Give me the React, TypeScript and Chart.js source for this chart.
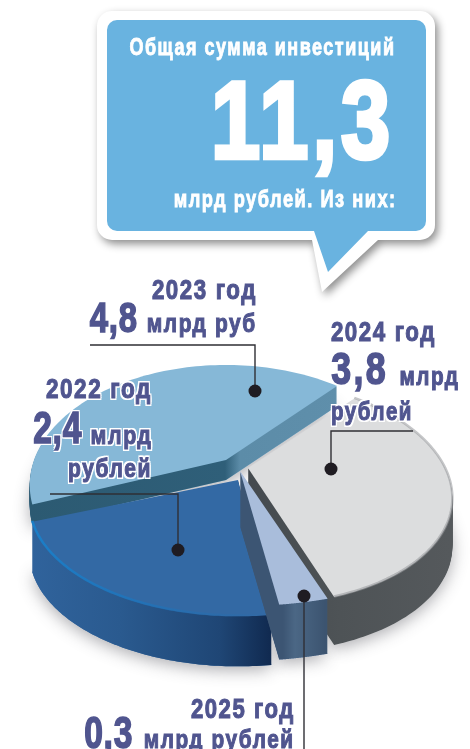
import React, { useEffect, useLayoutEffect, useRef } from "react";
import { Chart, registerables } from "chart.js";

Chart.register(...registerables);

// ---- data ----
const categories = ["2023 год", "2024 год", "2025 год", "2022 год"];
const billions = [4.8, 3.8, 0.3, 2.4];
const totalText = "11,3";

// ---- style ----
const W = 470;
const H = 749;
const PERSP = 0.208;
const INK = "#50558f";
type Slice = {
  cx: number; cy: number; rx: number; ry: number; shear: number; depth: number; top: string;
  wall: [number, string][]; order: number;
};
const sliceStyle: Slice[] = [
  { cx: 226, cy: 460, rx: 192, ry: 114.8, shear: 0, depth: 20, top: "#86b8d7", order: 0,
    wall: [[30, "#2c5a72"], [225, "#2f5f79"], [240, "#5c8ca8"], [340, "#5f8fab"]] },
  { cx: 248, cy: 468, rx: 197, ry: 108, shear: 0.11, depth: 48, top: "#dcddde", order: 2,
    wall: [[240, "#43494e"], [340, "#4e5356"], [450, "#55595c"]] },
  { cx: 240, cy: 471, rx: 240, ry: 107, shear: 0, depth: 55, top: "#a9bddb", order: 3,
    wall: [[240, "#3c5573"], [283, "#3c5573"], [295, "#4b6785"], [325, "#3c5470"]] },
  { cx: 238, cy: 480, rx: 204, ry: 108, shear: 0, depth: 50, top: "#3369a4", order: 1,
    wall: [[30, "#30639c"], [120, "#2a5a8f"], [220, "#1f4675"], [272, "#10294f"]] },
];
const leaders = [
  { pts: [[90, 345], [255, 345], [255, 391]] },
  { pts: [[413, 431], [331, 431], [331, 469]] },
  { pts: [[50, 494], [178, 494], [178, 550]] },
  { pts: [[304, 749], [304, 596]] },
];

type T = {
  t: string; x: number; y: number; s: number; w: number; c?: string;
  ls?: number; halo?: boolean; stroke?: number;
};
const FAM = '"Liberation Sans", sans-serif';
const texts: T[] = [
  { t: "Общая сумма инвестиций", x: 395, y: 47, s: 24, w: 266, c: "#fff", ls: 2, stroke: 0.9 },
  { t: totalText, x: 394, y: 120, s: 110, w: 183, c: "#fff", ls: 5, stroke: 4.5 },
  { t: "млрд рублей. Из них:", x: 397, y: 199, s: 24, w: 223, c: "#fff", ls: 2, stroke: 0.9 },
  { t: categories[0], x: 257, y: 290, s: 28, w: 105, ls: 2, stroke: 1.1 },
  { t: "4,8", x: 138, y: 317, s: 43, w: 48, ls: 1, stroke: 1.6 },
  { t: "млрд руб", x: 257, y: 323, s: 26, w: 110, ls: 2, stroke: 1.1 },
  { t: categories[1], x: 436, y: 332, s: 28, w: 105, ls: 2, stroke: 1.1 },
  { t: "3,8", x: 388, y: 369, s: 44, w: 57, ls: 3, stroke: 1.6 },
  { t: "млрд", x: 459, y: 376, s: 26, w: 60, ls: 2, stroke: 1.1 },
  { t: "рублей", x: 413, y: 411, s: 26, w: 82, ls: 2, stroke: 1.1, halo: true },
  { t: categories[3], x: 152, y: 389, s: 28, w: 106, ls: 2, stroke: 1.1, halo: true },
  { t: "2,4", x: 82, y: 428, s: 44, w: 49, ls: 1, stroke: 1.6, halo: true },
  { t: "млрд", x: 152, y: 435, s: 26, w: 62, ls: 2, stroke: 1.1, halo: true },
  { t: "рублей", x: 152, y: 468, s: 26, w: 84, ls: 2, stroke: 1.1, halo: true },
  { t: categories[2], x: 295, y: 709, s: 28, w: 104, ls: 2, stroke: 1.1 },
  { t: "0,3", x: 133, y: 733, s: 44, w: 49, ls: 1, stroke: 1.6 },
  { t: "млрд рублей", x: 295, y: 739, s: 26, w: 151, ls: 2, stroke: 1.1 },
];

function project(s: Slice, a: number) {
  const u = Math.cos(a);
  const v = -Math.sin(a);
  const k = 1 / (1 + PERSP * v);
  const dy = -s.ry * v * k;
  return [s.cx + s.rx * u * k + s.shear * dy, s.cy + dy];
}

function arcPts(s: Slice, start: number, end: number) {
  const n = 90;
  const out: number[][] = [];
  for (let i = 0; i <= n; i++) out.push(project(s, start + ((end - start) * i) / n));
  return out;
}

function path(ctx: CanvasRenderingContext2D, s: Slice, start: number, end: number, dy: number) {
  ctx.beginPath();
  ctx.moveTo(s.cx, s.cy + dy);
  for (const p of arcPts(s, start, end)) ctx.lineTo(p[0], p[1] + dy);
  ctx.closePath();
}

function drawCallout(ctx: CanvasRenderingContext2D) {
  const bubble = (x0: number, y0: number, x1: number, y1: number, r: number, tail: number[][]) => {
    ctx.beginPath();
    ctx.moveTo(x0 + r, y0);
    ctx.arcTo(x1, y0, x1, y1, r);
    ctx.arcTo(x1, y1, x0, y1, r);
    for (const p of tail) ctx.lineTo(p[0], p[1]);
    ctx.arcTo(x0, y1, x0, y0, r);
    ctx.arcTo(x0, y0, x1, y0, r);
    ctx.closePath();
  };
  ctx.save();
  ctx.shadowColor = "rgba(0,0,0,0.45)";
  ctx.shadowBlur = 9;
  ctx.shadowOffsetX = 3;
  ctx.shadowOffsetY = 4;
  ctx.fillStyle = "#fff";
  bubble(97, 11, 435, 240, 15, [[378, 240], [322, 292], [312, 240]]);
  ctx.fill();
  ctx.restore();
  ctx.fillStyle = "#69b3e0";
  bubble(107, 20, 426, 231, 10, [[368, 231], [328, 272], [314, 231]]);
  ctx.fill();
}

const piePlugin = {
  id: "pie3d",
  beforeDatasetsDraw(chart: any) {
    const ctx: CanvasRenderingContext2D = chart.ctx;
    const arcs = chart.getDatasetMeta(0).data;
    ctx.save();
    drawCallout(ctx);

    // soft shadow under the pie
    arcs.forEach((arc: any, i: number) => {
      const s = sliceStyle[i];
      ctx.save();
      ctx.shadowColor = "rgba(60,60,70,0.42)";
      ctx.shadowBlur = 16;
      ctx.shadowOffsetY = 4;
      ctx.fillStyle = s.top;
      path(ctx, s, arc.startAngle, arc.endAngle, s.depth);
      ctx.fill();
      ctx.restore();
    });

    const order = arcs.map((_: any, i: number) => i).sort((a: number, b: number) => sliceStyle[a].order - sliceStyle[b].order);
    for (const i of order) {
      const arc = arcs[i];
      const s = sliceStyle[i];
      const g = ctx.createLinearGradient(s.wall[0][0], 0, s.wall[s.wall.length - 1][0], 0);
      const span = s.wall[s.wall.length - 1][0] - s.wall[0][0];
      s.wall.forEach(([x, c]) => g.addColorStop((x - s.wall[0][0]) / span, c));
      ctx.fillStyle = g;
      for (let d = s.depth; d >= 1; d--) {
        path(ctx, s, arc.startAngle, arc.endAngle, d);
        ctx.fill();
      }
      ctx.fillStyle = s.top;
      path(ctx, s, arc.startAngle, arc.endAngle, 0);
      ctx.fill();

      if (i === 3) {
        // bright rim along the front of the dark slice
        const rim = ctx.createLinearGradient(30, 0, 270, 0);
        rim.addColorStop(0, "rgba(24,130,205,0.9)");
        rim.addColorStop(0.45, "rgba(24,120,195,0.6)");
        rim.addColorStop(1, "rgba(24,110,180,0)");
        ctx.strokeStyle = rim;
        ctx.lineWidth = 2.5;
        ctx.beginPath();
        arcPts(s, arc.startAngle, arc.endAngle).forEach((p, k) =>
          k ? ctx.lineTo(p[0], p[1] - 1) : ctx.moveTo(p[0], p[1] - 1));
        ctx.stroke();
      }
      if (i === 1) {
        ctx.strokeStyle = "rgba(150,152,155,0.55)";
        ctx.lineWidth = 2.5;
        ctx.beginPath();
        arcPts(s, arc.startAngle, arc.endAngle).forEach((p, k) =>
          k ? ctx.lineTo(p[0], p[1] - 0.5) : ctx.moveTo(p[0], p[1] - 0.5));
        ctx.stroke();
      }
    }

    // leaders and dots
    ctx.strokeStyle = "#2f2f35";
    ctx.lineWidth = 1.4;
    ctx.fillStyle = "#1f1c22";
    for (const l of leaders) {
      ctx.beginPath();
      l.pts.forEach((p, k) => (k ? ctx.lineTo(p[0], p[1]) : ctx.moveTo(p[0], p[1])));
      ctx.stroke();
      const dot = l.pts[l.pts.length - 1];
      ctx.beginPath();
      ctx.arc(dot[0], dot[1], 6.5, 0, Math.PI * 2);
      ctx.fill();
    }
    ctx.restore();
    return false;
  },
};

const HALO = [[-2, 0], [2, 0], [0, -2], [0, 2], [-2, -2], [2, -2], [-2, 2], [2, 2]]
  .map(([x, y]) => `${x}px ${y}px 0 #fff`)
  .join(",");

export default function App() {
  const ref = useRef<HTMLCanvasElement>(null);
  const spans = useRef<(HTMLSpanElement | null)[]>([]);
  useLayoutEffect(() => {
    spans.current.forEach((el, i) => {
      if (!el) return;
      el.style.transform = "none";
      const natural = el.getBoundingClientRect().width;
      el.style.transform = `scaleX(${texts[i].w / natural})`;
    });
  }, []);
  useEffect(() => {
    const chart = new Chart(ref.current!, {
      type: "pie",
      data: {
        labels: categories,
        datasets: [{ data: billions, borderWidth: 0, backgroundColor: sliceStyle.map((s) => s.top) }],
      },
      options: {
        animation: false,
        responsive: false,
        events: [],
        rotation: -111,
        plugins: { legend: { display: false }, tooltip: { enabled: false } },
      },
      plugins: [piePlugin],
    } as any);
    return () => chart.destroy();
  }, []);
  return (
    <div style={{ position: "absolute", left: 0, top: 0, width: W, height: H, overflow: "hidden", background: "#fff" }}>
      <canvas ref={ref} width={W} height={H} style={{ position: "absolute", left: 0, top: 0, width: W, height: H }} />
      {texts.map((t, i) => (
        <span
          key={i}
          ref={(el) => {
            spans.current[i] = el;
          }}
          style={{
            position: "absolute",
            top: t.y,
            right: W - t.x,
            lineHeight: 0,
            whiteSpace: "nowrap",
            fontFamily: FAM,
            fontWeight: 700,
            fontSize: t.s,
            letterSpacing: t.ls ?? 0,
            color: t.c ?? INK,
            WebkitTextStroke: t.stroke ? `${t.stroke}px ${t.c ?? INK}` : undefined,
            textShadow: t.halo ? HALO : undefined,
            transformOrigin: "100% 50%",
          }}
        >
          {t.t}
        </span>
      ))}
    </div>
  );
}
